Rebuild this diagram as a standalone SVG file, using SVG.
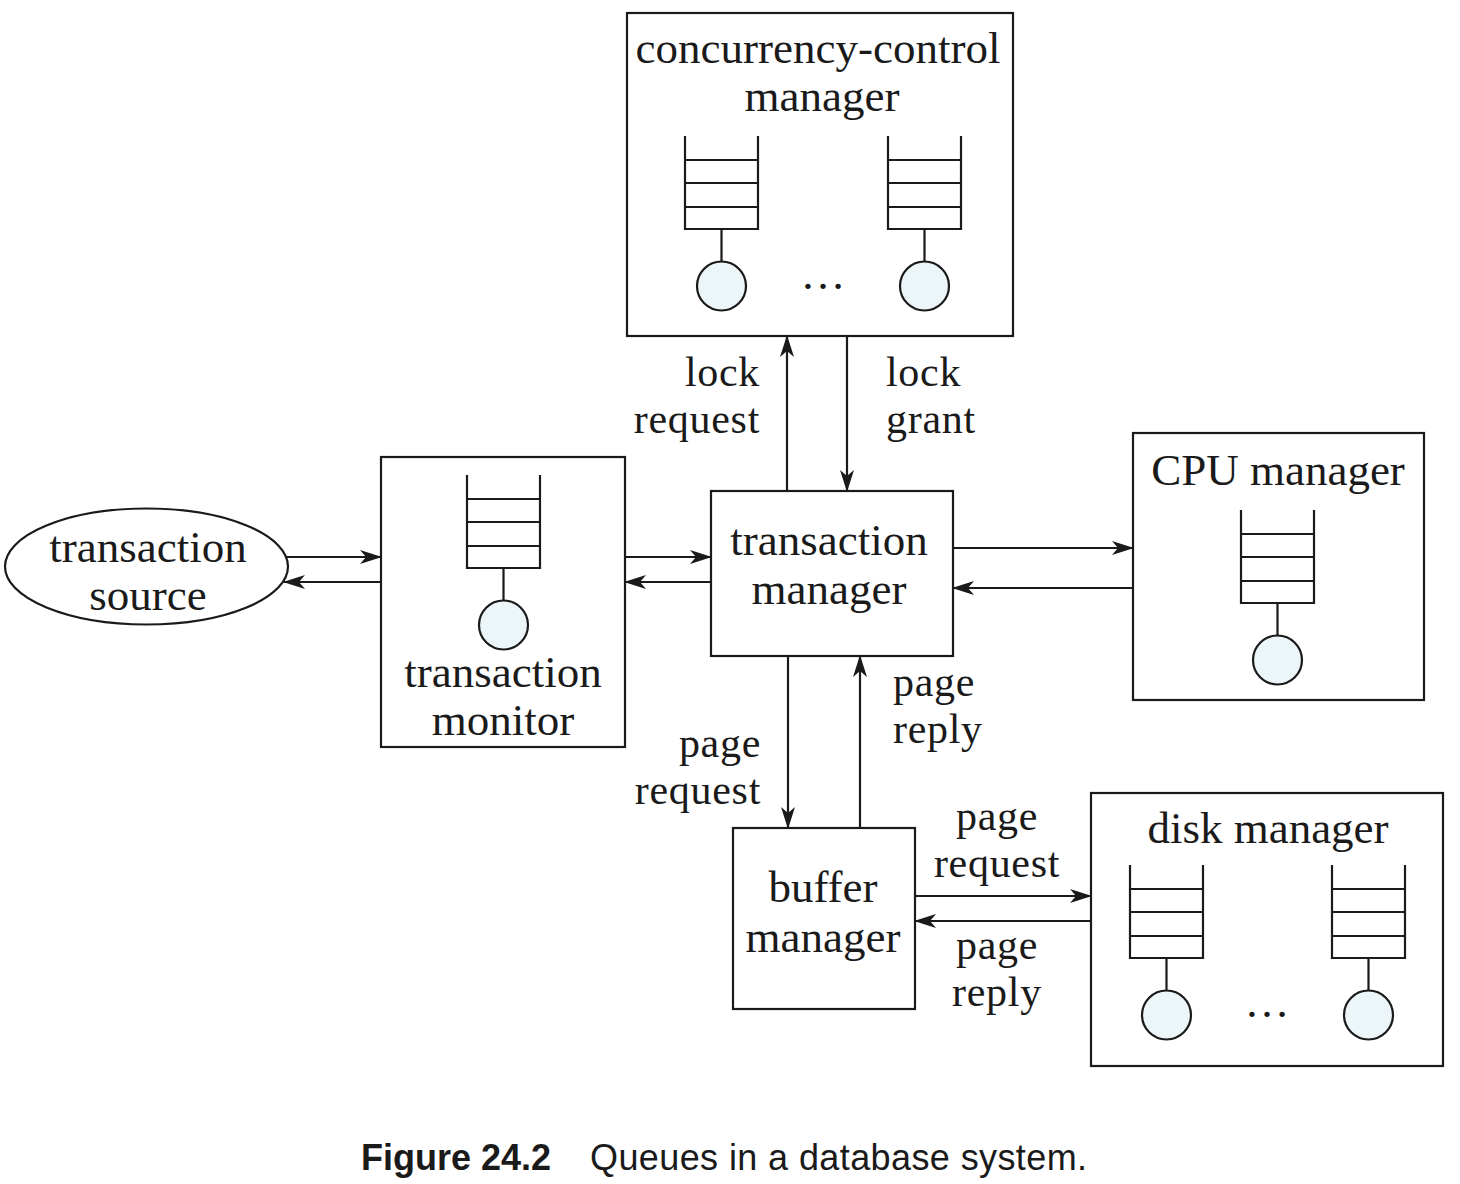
<svg xmlns="http://www.w3.org/2000/svg" xmlns:xlink="http://www.w3.org/1999/xlink" width="1460" height="1184" viewBox="0 0 1460 1184">
<style>
.box{fill:#fff;stroke:#1a1a1a;stroke-width:2.2}
.lbl{font-family:"Liberation Serif","Times New Roman",serif;font-size:45px;fill:#1a1a1a}
.el{font-family:"Liberation Serif","Times New Roman",serif;font-size:42px;letter-spacing:0.7px;fill:#1a1a1a}
.c{text-anchor:middle}
.e{text-anchor:end}
.q{stroke:#1a1a1a;stroke-width:2.2;fill:none}
.srv{fill:#ecf5f8;stroke:#1a1a1a;stroke-width:2.2}
.conn line{stroke:#1a1a1a;stroke-width:2.2;marker-end:url(#ah)}
.cap{font-family:"Liberation Sans",Arial,sans-serif;font-size:36px;fill:#1a1a1a}
</style>
<defs>
<marker id="ah" viewBox="0 0 22 14" refX="21" refY="7" markerWidth="22" markerHeight="14" orient="auto" markerUnits="userSpaceOnUse">
<path d="M0,0 L22,7 L0,14 L6,7 Z" fill="#1a1a1a"/>
</marker>
<g id="queue">
<path class="q" d="M0,0 V93 H73 V0 M0,24 H73 M0,47 H73 M0,71 H73 M36.5,93 V125.5"/>
<circle class="srv" cx="36.5" cy="150" r="24.5"/>
</g>
</defs>
<rect width="1460" height="1184" fill="#fff"/>

<g id="cc-manager">
<rect class="box" x="627" y="13" width="386" height="323"/>
<text class="lbl c" x="818" y="63">concurrency-control</text>
<text class="lbl c" x="822" y="111">manager</text>
<use xlink:href="#queue" href="#queue" x="685" y="136"/>
<use xlink:href="#queue" href="#queue" x="888" y="136"/>
<text class="lbl c" x="823" y="289">…</text>
</g>

<g id="transaction-source">
<ellipse cx="146.5" cy="566.5" rx="141.5" ry="58" fill="#fff" stroke="#1a1a1a" stroke-width="2.2"/>
<text class="lbl c" x="148" y="562">transaction</text>
<text class="lbl c" x="148" y="610">source</text>
</g>

<g id="transaction-monitor">
<rect class="box" x="381" y="457" width="244" height="290"/>
<use xlink:href="#queue" href="#queue" x="467" y="475"/>
<text class="lbl c" x="503" y="687">transaction</text>
<text class="lbl c" x="503" y="735">monitor</text>
</g>

<g id="transaction-manager">
<rect class="box" x="711" y="491" width="242" height="165"/>
<text class="lbl c" x="829" y="555">transaction</text>
<text class="lbl c" x="829" y="604">manager</text>
</g>

<g id="cpu-manager">
<rect class="box" x="1133" y="433" width="291" height="267"/>
<text class="lbl c" x="1278" y="485">CPU manager</text>
<use xlink:href="#queue" href="#queue" x="1241" y="510"/>
</g>

<g id="buffer-manager">
<rect class="box" x="733" y="828" width="182" height="181"/>
<text class="lbl c" x="823" y="902">buffer</text>
<text class="lbl c" x="823" y="952">manager</text>
</g>

<g id="disk-manager">
<rect class="box" x="1091" y="793" width="352" height="273"/>
<text class="lbl c" x="1268" y="843">disk manager</text>
<use xlink:href="#queue" href="#queue" x="1130" y="865"/>
<use xlink:href="#queue" href="#queue" x="1332" y="865"/>
<text class="lbl c" x="1267" y="1017">…</text>
</g>

<g id="connectors" class="conn">
<line x1="286" y1="557" x2="381" y2="557"/>
<line x1="381" y1="582" x2="284" y2="582"/>
<line x1="625" y1="557" x2="711" y2="557"/>
<line x1="711" y1="582" x2="625" y2="582"/>
<line x1="787" y1="491" x2="787" y2="336"/>
<line x1="847" y1="336" x2="847" y2="491"/>
<line x1="953" y1="548" x2="1133" y2="548"/>
<line x1="1133" y1="588" x2="953" y2="588"/>
<line x1="788" y1="656" x2="788" y2="828"/>
<line x1="860" y1="828" x2="860" y2="656"/>
<line x1="915" y1="896" x2="1091" y2="896"/>
<line x1="1091" y1="921" x2="915" y2="921"/>
</g>

<g id="connector-labels">
<text class="el e" x="760" y="386">lock</text>
<text class="el e" x="760" y="433">request</text>
<text class="el" x="886" y="386">lock</text>
<text class="el" x="886" y="433">grant</text>
<text class="el" x="893" y="696">page</text>
<text class="el" x="893" y="743">reply</text>
<text class="el e" x="761" y="757">page</text>
<text class="el e" x="761" y="804">request</text>
<text class="el c" x="997" y="830">page</text>
<text class="el c" x="997" y="877">request</text>
<text class="el c" x="997" y="959">page</text>
<text class="el c" x="997" y="1006">reply</text>
</g>

<g id="caption">
<text class="cap" x="361" y="1170"><tspan font-weight="bold">Figure 24.2</tspan><tspan x="590" letter-spacing="0.4">Queues in a database system.</tspan></text>
</g>
</svg>
